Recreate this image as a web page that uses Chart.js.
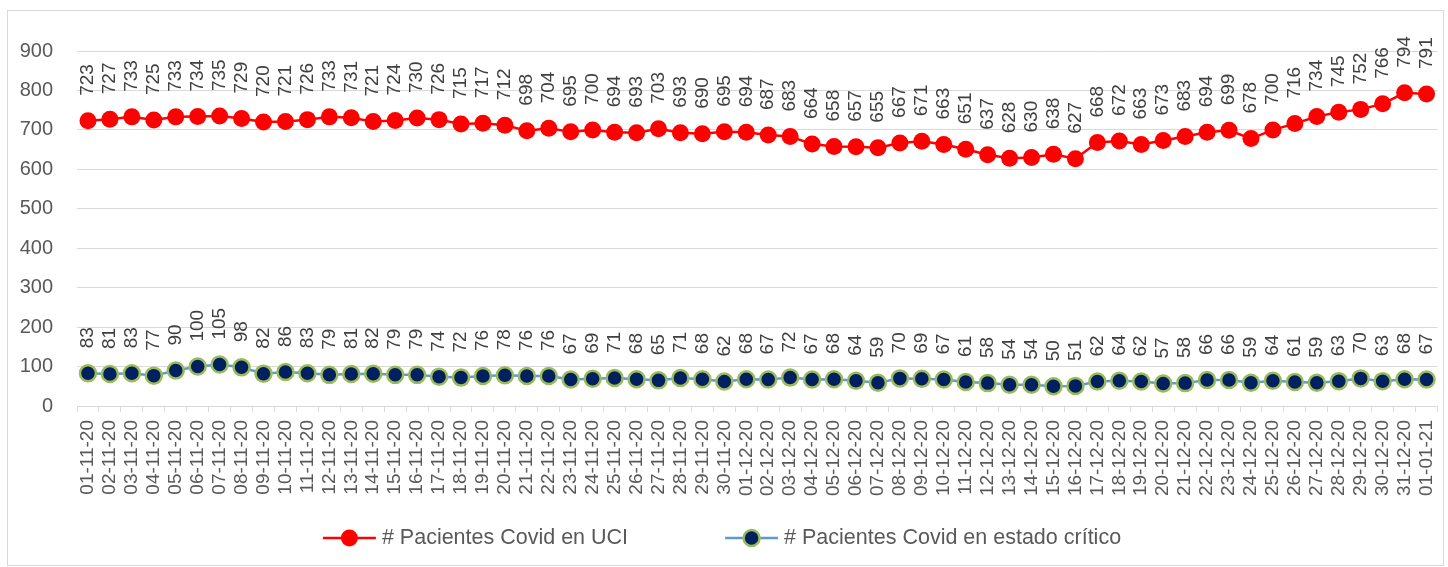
<!DOCTYPE html>
<html>
<head>
<meta charset="utf-8">
<script src="https://cdn.jsdelivr.net/npm/chart.js@4"></script>
<style>
  html, body { margin: 0; padding: 0; background: #fff; }
</style>
</head>
<body>
<canvas id="myChart" width="1448" height="567"></canvas>
<script>
// datos
var fechas = [
  "01-11-20", "02-11-20", "03-11-20", "04-11-20", "05-11-20", "06-11-20", "07-11-20", "08-11-20", "09-11-20", "10-11-20",
  "11-11-20", "12-11-20", "13-11-20", "14-11-20", "15-11-20", "16-11-20", "17-11-20", "18-11-20", "19-11-20", "20-11-20",
  "21-11-20", "22-11-20", "23-11-20", "24-11-20", "25-11-20", "26-11-20", "27-11-20", "28-11-20", "29-11-20", "30-11-20",
  "01-12-20", "02-12-20", "03-12-20", "04-12-20", "05-12-20", "06-12-20", "07-12-20", "08-12-20", "09-12-20", "10-12-20",
  "11-12-20", "12-12-20", "13-12-20", "14-12-20", "15-12-20", "16-12-20", "17-12-20", "18-12-20", "19-12-20", "20-12-20",
  "21-12-20", "22-12-20", "23-12-20", "24-12-20", "25-12-20", "26-12-20", "27-12-20", "28-12-20", "29-12-20", "30-12-20",
  "31-12-20", "01-01-21"
];
var pacientesUCI = [
  723, 727, 733, 725, 733, 734, 735, 729, 720, 721,
  726, 733, 731, 721, 724, 730, 726, 715, 717, 712,
  698, 704, 695, 700, 694, 693, 703, 693, 690, 695,
  694, 687, 683, 664, 658, 657, 655, 667, 671, 663,
  651, 637, 628, 630, 638, 627, 668, 672, 663, 673,
  683, 694, 699, 678, 700, 716, 734, 745, 752, 766,
  794, 791
];
var pacientesCriticos = [
  83, 81, 83, 77, 90, 100, 105, 98, 82, 86,
  83, 79, 81, 82, 79, 79, 74, 72, 76, 78,
  76, 76, 67, 69, 71, 68, 65, 71, 68, 62,
  68, 67, 72, 67, 68, 64, 59, 70, 69, 67,
  61, 58, 54, 54, 50, 51, 62, 64, 62, 57,
  58, 66, 66, 59, 64, 61, 59, 63, 70, 63,
  68, 67
];
var ticksY = [0, 100, 200, 300, 400, 500, 600, 700, 800, 900];

var fuente = "'Liberation Sans', Arial, sans-serif";

// marco gris alrededor del grafico
var marco = {
  id: "marco",
  beforeDraw: function (chart) {
    var ctx = chart.ctx;
    ctx.save();
    ctx.fillStyle = "#ffffff";
    ctx.fillRect(0, 0, chart.width, chart.height);
    ctx.strokeStyle = "#d9d9d9";
    ctx.lineWidth = 1;
    ctx.strokeRect(7.5, 10.5, 1436, 555);
    ctx.restore();
  }
};

// etiquetas de datos verticales sobre cada punto
var etiquetasDatos = {
  id: "etiquetasDatos",
  afterDatasetsDraw: function (chart) {
    var ctx = chart.ctx;
    chart.data.datasets.forEach(function (ds, i) {
      var meta = chart.getDatasetMeta(i);
      meta.data.forEach(function (pt, j) {
        ctx.save();
        ctx.translate(pt.x, pt.y - 25);
        ctx.rotate(-Math.PI / 2);
        ctx.font = "19px " + fuente;
        ctx.fillStyle = "#404040";
        ctx.textAlign = "left";
        ctx.textBaseline = "middle";
        ctx.fillText(String(ds.data[j]), 0, 0);
        ctx.restore();
      });
    });
  }
};

// leyenda abajo: linea + marcador + texto
var leyenda = {
  id: "leyenda",
  afterDraw: function (chart) {
    var ctx = chart.ctx;
    var ds = chart.data.datasets;
    var y = 538, lineW = 53, gapTxt = 6, gapItem = 97;
    ctx.save();
    ctx.font = "21.5px " + fuente;
    var anchos = ds.map(function (d) { return ctx.measureText(d.label).width; });
    var total = 0;
    anchos.forEach(function (w, i) { total += lineW + gapTxt + w + (i > 0 ? gapItem : 0); });
    var x = 722 - total / 2;
    ds.forEach(function (d, i) {
      ctx.strokeStyle = d.borderColor;
      ctx.lineWidth = d.borderWidth;
      ctx.beginPath();
      ctx.moveTo(x, y);
      ctx.lineTo(x + lineW, y);
      ctx.stroke();
      ctx.beginPath();
      ctx.arc(x + lineW / 2, y, d.pointRadius, 0, Math.PI * 2);
      ctx.fillStyle = d.pointBackgroundColor;
      ctx.fill();
      if (d.pointBorderWidth) {
        ctx.strokeStyle = d.pointBorderColor;
        ctx.lineWidth = d.pointBorderWidth;
        ctx.stroke();
      }
      ctx.fillStyle = "#595959";
      ctx.textAlign = "left";
      ctx.textBaseline = "middle";
      ctx.fillText(d.label, x + lineW + gapTxt, y);
      x += lineW + gapTxt + anchos[i] + gapItem;
    });
    ctx.restore();
  }
};

var ctx = document.getElementById("myChart").getContext("2d");
var myChart = new Chart(ctx, {
  type: "line",
  data: {
    labels: fechas,
    datasets: [
      {
        label: "# Pacientes Covid en UCI",
        data: pacientesUCI,
        borderColor: "#ff0000",
        borderWidth: 2.5,
        pointRadius: 8.5,
        pointBackgroundColor: "#ff0000",
        pointBorderColor: "#ff0000",
        pointBorderWidth: 0,
        tension: 0
      },
      {
        label: "# Pacientes Covid en estado crítico",
        data: pacientesCriticos,
        borderColor: "#5b9bd5",
        borderWidth: 2.5,
        pointRadius: 8,
        pointBackgroundColor: "#002060",
        pointBorderColor: "#9bbb59",
        pointBorderWidth: 2.5,
        tension: 0
      }
    ]
  },
  options: {
    responsive: false,
    animation: false,
    devicePixelRatio: 1,
    layout: { padding: { left: 0, top: 51, right: 7, bottom: 50 } },
    plugins: {
      legend: { display: false },
      tooltip: { enabled: false }
    },
    scales: {
      x: {
        offset: true,
        grid: { offset: true, drawOnChartArea: false, drawTicks: true, tickLength: 6, color: "#d9d9d9" },
        border: { color: "#d9d9d9" },
        ticks: {
          autoSkip: false,
          minRotation: 90,
          maxRotation: 90,
          padding: 8,
          color: "#595959",
          font: { size: 19, family: fuente }
        },
        afterFit: function (s) {
          s.height = 111;
          s.paddingLeft = 0;
          s.paddingRight = 0;
        }
      },
      y: {
        min: 0,
        max: 900,
        afterBuildTicks: function (s) { s.ticks = ticksY.map(function (v) { return { value: v }; }); },
        grid: { color: "#d9d9d9", drawTicks: false },
        border: { display: false },
        ticks: {
          padding: 24,
          color: "#595959",
          font: { size: 20, family: fuente }
        },
        afterFit: function (s) { s.width = 77; }
      }
    }
  },
  plugins: [marco, etiquetasDatos, leyenda]
});
</script>
</body>
</html>
